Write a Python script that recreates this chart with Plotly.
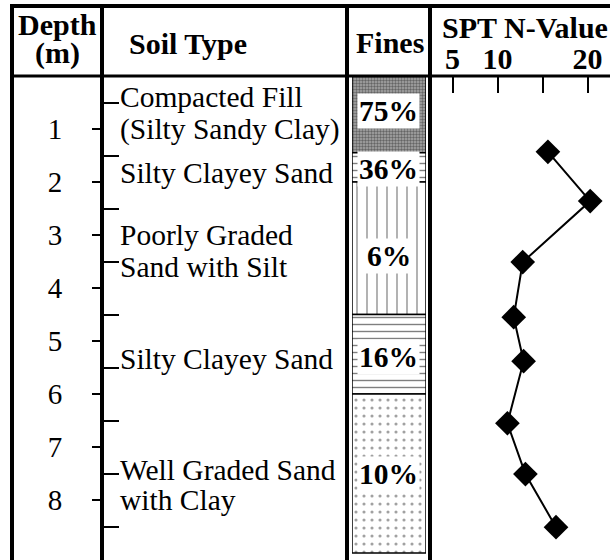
import plotly.graph_objects as go

W, H = 610, 560
FONT = "Liberation Serif"

# depth scale of the log (m)
depth_ticks = [1, 2, 3, 4, 5, 6, 7, 8]
depth_max = 9.13

# soil layers and fines content
layer_top = [0.0, 1.45, 2.0, 4.5, 6.0]
layer_bottom = [1.45, 2.0, 4.5, 6.0, 9.0]
fines_pct = [75, 36, 6, 16, 10]
fines_label_depth = [0.66, 1.75, 3.4, 5.3, 7.51]

# soil descriptions, one entry per text line
soil_lines = ["Compacted Fill", "(Silty Sandy Clay)", "Silty Clayey Sand",
              "Poorly Graded", "Sand with Silt", "Silty Clayey Sand",
              "Well Graded Sand", "with Clay"]
soil_line_depth = [0.40, 1.0, 1.83, 3.0, 3.6, 5.34, 7.43, 8.0]

# SPT blow counts
spt_depth = [1.43, 2.36, 3.51, 4.55, 5.38, 6.55, 7.51, 8.51]
spt_n = [15.6, 20.3, 12.8, 11.8, 12.9, 11.1, 13.1, 16.5]
spt_ticks = [5, 10, 15, 20]
spt_ticktext = ["5", "10", "", "20"]

# hatch styles of the fines column, top to bottom
layer_patterns = [
    dict(shape=".", fgcolor="#222222", bgcolor="#a8a8a8", size=3, solidity=0.5),
    dict(shape="-", fgcolor="black", bgcolor="white", size=7, solidity=0.2),
    dict(shape="|", fgcolor="black", bgcolor="white", size=10, solidity=0.12),
    dict(shape="-", fgcolor="black", bgcolor="white", size=7, solidity=0.2),
    dict(shape=".", fgcolor="#444444", bgcolor="white", size=8, solidity=0.12),
]


def px(x):
    return x / W


def py(y):
    return 1 - y / H


fig = go.Figure()

for top, bottom, pat in zip(layer_top, layer_bottom, layer_patterns):
    fig.add_trace(go.Bar(
        x=[0], y=[bottom - top], base=[top], width=1,
        marker=dict(color=pat["bgcolor"], pattern=pat,
                    line=dict(color="black", width=1.5)),
        xaxis="x2", yaxis="y", hoverinfo="skip", showlegend=False
    ))

fig.add_trace(go.Scatter(
    x=spt_n, y=spt_depth,
    mode="lines+markers",
    line=dict(color="black", width=2),
    marker=dict(symbol="diamond", size=19, color="black"),
    xaxis="x", yaxis="y", showlegend=False
))

annotations = []
for text, d in zip(soil_lines, soil_line_depth):
    annotations.append(dict(
        x=px(118), y=d, xref="paper", yref="y", text=text,
        xanchor="left", yanchor="middle", showarrow=False,
        font=dict(family=FONT, size=29.5, color="black")
    ))

for p, d in zip(fines_pct, fines_label_depth):
    annotations.append(dict(
        x=px(389), y=d, xref="paper", yref="y", text=f"{p}%",
        xanchor="center", yanchor="middle", showarrow=False,
        bgcolor="white", borderpad=1,
        font=dict(family=FONT, size=29.5, color="black", weight="bold")
    ))

headers = [
    ("Depth", 57, 25, "center"),
    ("(m)", 57, 53, "center"),
    ("Soil Type", 188, 44, "center"),
    ("Fines", 390, 43, "center"),
    ("SPT N-Value", 440, 27, "left"),
]
for text, x, y, anchor in headers:
    annotations.append(dict(
        x=px(x), y=py(y), xref="paper", yref="paper", text=text,
        xanchor=anchor, yanchor="middle", showarrow=False,
        font=dict(family=FONT, size=30, color="black", weight="bold")
    ))

# table frame
frame = [
    (10, 6, 610, 6, 4),
    (12, 6, 12, 560, 4),
    (12, 76, 610, 76, 3),
    (102, 6, 102, 560, 4),
    (347, 6, 347, 560, 4),
    (430, 6, 430, 560, 4),
]
shapes = [dict(type="line", xref="paper", yref="paper",
               x0=px(x0), y0=py(y0), x1=px(x1), y1=py(y1),
               line=dict(color="black", width=w))
          for x0, y0, x1, y1, w in frame]

fig.update_layout(
    width=W, height=H,
    margin=dict(l=0, r=0, t=0, b=0),
    paper_bgcolor="white", plot_bgcolor="white",
    barmode="overlay",
    showlegend=False,
    xaxis=dict(
        domain=[px(432), 1], range=[2.72, 22.5], anchor="y", side="top",
        tickmode="array", tickvals=spt_ticks, ticktext=spt_ticktext,
        ticks="inside", ticklen=17, tickwidth=2, tickcolor="black",
        showgrid=False, zeroline=False, showline=False,
        tickfont=dict(family=FONT, size=30, color="black", weight="bold")
    ),
    xaxis2=dict(domain=[px(352), px(426)], range=[-0.5, 0.5],
                anchor="y", visible=False),
    yaxis=dict(
        domain=[0, py(76)], range=[depth_max, 0],
        anchor="free", position=px(102),
        tickmode="array", tickvals=depth_ticks,
        ticks="outside", ticklen=10, tickwidth=2, tickcolor="black",
        minor=dict(tickmode="linear", tick0=0.5, dtick=1, ticks="inside",
                   ticklen=16, tickwidth=2, tickcolor="black", showgrid=False),
        ticklabelstandoff=24,
        showgrid=False, zeroline=False, showline=False,
        tickfont=dict(family=FONT, size=29, color="black")
    ),
    annotations=annotations,
    shapes=shapes,
)

# drop the default page margin so the figure sits at the window corner
fig.write_html("out.html", config={"displayModeBar": False},
               post_script="document.body.style.margin = '0';")
